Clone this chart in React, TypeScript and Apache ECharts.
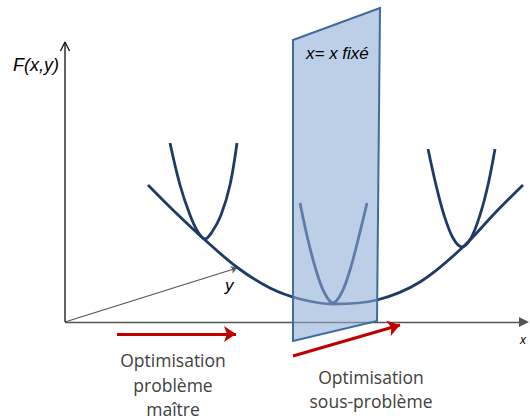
import React, { useEffect, useRef } from "react";
import * as echarts from "echarts";

// Diagram coordinates (data space equals the 530x420 picture space, y downward)
const yAxisLine = [[65, 322], [65, 42]];
const yAxisHead = [[60.5, 51], [65, 42], [69.5, 51]];
const xAxisLine = [[65, 322], [524, 322]];
const depthAxis = [[65, 322], [237, 268]];

const envelope = [
  [148, 185], [175, 212], [205, 240], [238, 268], [270, 288], [300, 299],
  [333, 304], [377, 300], [420, 282], [463, 247], [495, 213], [523, 185],
];
const leftParabola = [
  [170, 143], [180, 185], [190, 215], [198, 232], [205, 239], [212, 232],
  [221, 215], [230, 185], [237, 143],
];
const centerParabola = [
  [300, 203], [308, 240], [316, 270], [324, 292], [333, 303], [342, 292],
  [350, 270], [358, 240], [367, 203],
];
const rightParabola = [
  [428, 149], [436, 185], [444, 215], [453, 238], [462, 247], [471, 238],
  [480, 215], [488, 185], [495, 149],
];
const plane = [[293, 40], [380, 8], [377, 321], [293, 341]];
const masterArrow = [[117, 334], [236, 334]];
const subArrow = [[293, 356], [400, 325]];

const labelF = "F(x,y)";
const labelPlane = "x= x fixé";
const labelY = "y";
const labelX = "x";
const masterText = ["Optimisation", "problème", "maître"];
const subText = ["Optimisation", "sous-problème"];

export default function App() {
  const ref = useRef<HTMLDivElement>(null);
  useEffect(() => {
    document.body.style.margin = "0";
    const chart = echarts.init(ref.current!, null, { renderer: "svg" });
    const curveStyle = { color: "#1d3b66", width: 2.8 };
    const curve = (data: number[][]) => ({
      type: "line",
      data,
      smooth: 0.35,
      showSymbol: false,
      symbol: "none",
      lineStyle: curveStyle,
      z: 3,
      silent: true,
    });
    chart.setOption({
      animation: false,
      grid: { left: 0, top: 0, right: 0, bottom: 0 },
      xAxis: { type: "value", min: 0, max: 530, show: false },
      yAxis: { type: "value", min: 0, max: 420, inverse: true, show: false },
      series: [
        {
          type: "line",
          data: yAxisLine,
          showSymbol: false,
          symbol: "none",
          lineStyle: { color: "#111", width: 1.3 },
          z: 1,
        },
        {
          type: "line",
          data: yAxisHead,
          showSymbol: false,
          symbol: "none",
          lineStyle: { color: "#111", width: 1.3 },
          z: 1,
        },
        {
          type: "lines",
          coordinateSystem: "cartesian2d",
          symbol: ["none", "triangle"],
          symbolSize: [0, 10],
          lineStyle: { color: "#555", width: 1.3, opacity: 1 },
          data: [{ coords: xAxisLine }],
          z: 1,
        },
        {
          type: "lines",
          coordinateSystem: "cartesian2d",
          symbol: ["none", "arrow"],
          symbolSize: [0, 6],
          lineStyle: { color: "#555", width: 1.2, opacity: 1 },
          data: [{ coords: depthAxis }],
          z: 1,
        },
        curve(envelope),
        curve(leftParabola),
        curve(centerParabola),
        curve(rightParabola),
        {
          type: "custom",
          coordinateSystem: "cartesian2d",
          data: [[0]],
          z: 5,
          renderItem: (_params: any, api: any) => ({
            type: "polygon",
            shape: { points: plane.map((p) => api.coord(p)) },
            style: {
              fill: "rgba(141,173,213,0.58)",
              stroke: "#3f6c9e",
              lineWidth: 2,
            },
          }),
        },
        {
          type: "lines",
          coordinateSystem: "cartesian2d",
          symbol: ["none", "arrow"],
          symbolSize: [0, 12],
          lineStyle: { color: "#c00000", width: 3, opacity: 1 },
          data: [{ coords: masterArrow }, { coords: subArrow }],
          z: 6,
        },
      ],
      graphic: [
        {
          type: "text",
          x: 13,
          y: 65,
          z: 10,
          style: {
            text: labelF,
            font: "italic 18px 'Liberation Sans', Arial, sans-serif",
            fill: "#000",
            verticalAlign: "middle",
          },
        },
        {
          type: "text",
          x: 306,
          y: 53,
          z: 10,
          style: {
            text: labelPlane,
            font: "italic 17px 'Liberation Sans', Arial, sans-serif",
            fill: "#000",
            verticalAlign: "middle",
          },
        },
        {
          type: "text",
          x: 225,
          y: 285,
          z: 10,
          style: {
            text: labelY,
            font: "italic 17px 'Liberation Sans', Arial, sans-serif",
            fill: "#000",
            verticalAlign: "middle",
          },
        },
        {
          type: "text",
          x: 520,
          y: 340,
          z: 10,
          style: {
            text: labelX,
            font: "italic 12px 'Liberation Sans', Arial, sans-serif",
            fill: "#000",
            verticalAlign: "middle",
          },
        },
        ...masterText.map((t, i) => ({
          type: "text",
          x: 173,
          y: 360 + i * 24.5,
          z: 10,
          style: {
            text: t,
            font: "17.5px 'Open Sans', sans-serif",
            fill: "#404040",
            align: "center",
            verticalAlign: "middle",
          },
        })),
        ...subText.map((t, i) => ({
          type: "text",
          x: 371,
          y: 377 + i * 24,
          z: 10,
          style: {
            text: t,
            font: "17.5px 'Open Sans', sans-serif",
            fill: "#404040",
            align: "center",
            verticalAlign: "middle",
          },
        })),
      ],
    });
    return () => chart.dispose();
  }, []);
  return <div ref={ref} style={{ width: 530, height: 420 }} />;
}
